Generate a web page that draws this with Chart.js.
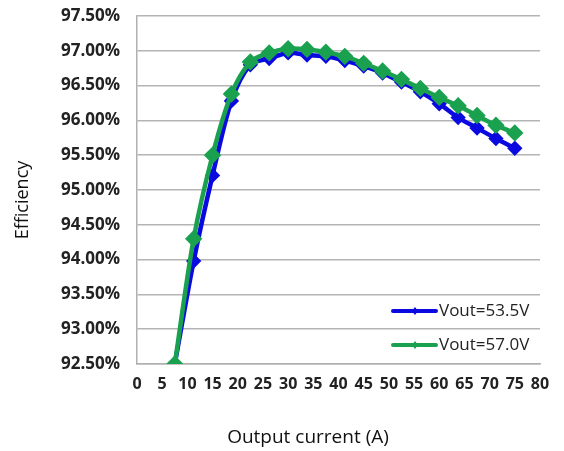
<!DOCTYPE html>
<html>
<head>
<meta charset="utf-8">
<script src="https://cdn.jsdelivr.net/npm/chart.js@4"></script>
<style>
  html, body { margin: 0; padding: 0; background: #fff; }
  #wrap { width: 564px; height: 451px; position: relative; }
</style>
</head>
<body>
<div id="wrap"><canvas id="myChart"></canvas></div>
<script>
// output current in A (10% .. 100% of 75A)
const current = [7.5, 11.25, 15, 18.75, 22.5, 26.25, 30, 33.75, 37.5, 41.25, 45, 48.75, 52.5, 56.25, 60, 63.75, 67.5, 71.25, 75];
const eff535 = [92.5, 93.98, 95.21, 96.28, 96.80, 96.89, 96.97, 96.94, 96.92, 96.86, 96.78, 96.68, 96.55, 96.41, 96.24, 96.04, 95.89, 95.74, 95.60];
const eff570 = [92.5, 94.30, 95.50, 96.38, 96.84, 96.97, 97.03, 97.02, 96.98, 96.92, 96.82, 96.71, 96.59, 96.46, 96.33, 96.21, 96.07, 95.93, 95.82];
const seriesNames = ['Vout=53.5V', 'Vout=57.0V'];
const xTitle = 'Output current (A)';
const yTitle = 'Efficiency';

const blue = '#0a0ae0';
const green = '#1aa150';

function toPoints(ys){
    return current.map((x, i) => ({x: x, y: ys[i]}));
}

// legend inside the plot (bottom right) + axis titles
const extras = {
    id: 'extras',
    afterDraw(chart){
        const ctx = chart.ctx;
        const rows = [[seriesNames[0], blue, 311], [seriesNames[1], green, 345]];
        ctx.save();
        rows.forEach(r => {
            ctx.strokeStyle = r[1];
            ctx.lineWidth = 4;
            ctx.lineCap = 'round';
            ctx.beginPath();
            ctx.moveTo(393, r[2]);
            ctx.lineTo(436, r[2]);
            ctx.stroke();
            ctx.fillStyle = r[1];
            ctx.beginPath();
            ctx.moveTo(415, r[2] - 4);
            ctx.lineTo(418, r[2]);
            ctx.lineTo(415, r[2] + 4);
            ctx.lineTo(412, r[2]);
            ctx.closePath();
            ctx.fill();
            ctx.fillStyle = '#222';
            ctx.font = '17px "Open Sans"';
            ctx.textBaseline = 'middle';
            ctx.textAlign = 'left';
            ctx.fillText(r[0], 439, r[2]);
        });

        ctx.fillStyle = '#111';
        ctx.font = '19px "Open Sans"';
        ctx.textAlign = 'center';
        ctx.textBaseline = 'middle';
        ctx.fillText(xTitle, 308, 438);

        ctx.font = '18px "Open Sans"';
        ctx.translate(23, 200);
        ctx.rotate(-Math.PI / 2);
        ctx.fillText(yTitle, 0, 0);
        ctx.restore();
    }
};

const ctx = document.getElementById('myChart').getContext('2d');

const data = {
    datasets: [{
        label: seriesNames[0],
        data: toPoints(eff535),
        borderColor: blue,
        backgroundColor: blue,
        borderWidth: 4.5,
        pointStyle: 'rectRot',
        pointRadius: 4.5,
        tension: 0.3,
        order: 1
    }, {
        label: seriesNames[1],
        data: toPoints(eff570),
        borderColor: green,
        backgroundColor: green,
        borderWidth: 4.5,
        pointStyle: 'rectRot',
        pointRadius: 5.5,
        tension: 0.3,
        order: 0
    }]
};

const options = {
    responsive: true,
    maintainAspectRatio: false,
    animation: false,
    layout: { padding: { left: 4, top: 16, right: 24, bottom: 0 } },
    plugins: {
        legend: { display: false },
        tooltip: { enabled: false }
    },
    scales: {
        x: {
            type: 'linear',
            min: 0,
            max: 80,
            ticks: {
                stepSize: 5,
                color: '#222',
                padding: 11,
                autoSkip: false,
                maxRotation: 0,
                minRotation: 0,
                font: { family: '"Open Sans"', size: 16, weight: 'bold' }
            },
            grid: { display: false, drawTicks: false },
            border: { display: true, color: '#b0b0b0', width: 1.5 },
            afterFit(scale){ scale.height = 87; }
        },
        y: {
            min: 92.5,
            max: 97.5,
            ticks: {
                stepSize: 0.5,
                color: '#222',
                padding: 17,
                font: { family: '"Open Sans"', size: 17, weight: 'bold' },
                callback: v => v.toFixed(2) + '%'
            },
            grid: { color: '#b4b4b4', lineWidth: 1.5, drawTicks: false },
            border: { display: true, color: '#b0b0b0', width: 1.5 },
            afterFit(scale){
                scale.width = 133;
                scale.paddingTop = 4;
                scale.paddingBottom = 4;
            }
        }
    }
};

let config = {
    type: 'line',
    data: data,
    options: options,
    plugins: [extras]
};

let graph = new Chart(ctx, config);
</script>
</body>
</html>
